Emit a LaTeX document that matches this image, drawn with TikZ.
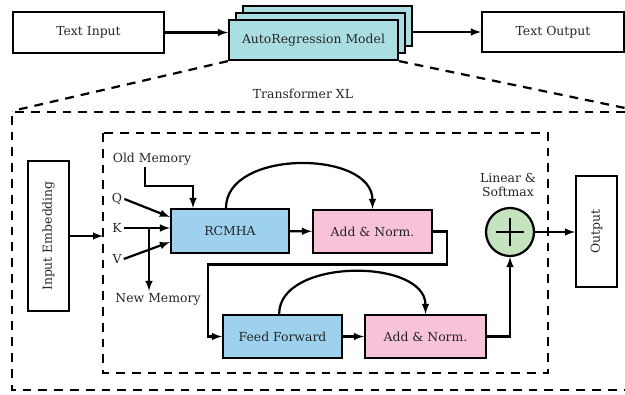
\documentclass[tikz,border=0pt]{standalone}
\usepackage{fontspec}
\setmainfont{DejaVu Serif}
\usepackage{tikz}

\definecolor{arcyan}{RGB}{170,222,226}
\definecolor{attnblue}{RGB}{157,209,238}
\definecolor{normpink}{RGB}{247,194,218}
\definecolor{sumgreen}{RGB}{197,227,190}

\begin{document}
\begin{tikzpicture}[x=0.03cm,y=-0.03cm,>=latex,line width=1.9pt,
  font=\fontsize{10.6}{12.5}\selectfont,
  block/.style={rectangle,draw,text=black!85,minimum height=1.23cm},
  lbl/.style={inner sep=1pt,text=black!85},
  frame/.style={dash pattern=on 7.5pt off 6pt}]
\useasboundingbox (0,0) rectangle (625,394);

% top row
\node [block,minimum width=4.53cm] (txtin) at (88.5,32.5) {Text Input};
\node [block,fill=arcyan,minimum width=5.07cm,minimum height=1.2cm] (arback) at (327.5,26) {};
\node [block,fill=arcyan,minimum width=5.07cm,minimum height=1.2cm] (armid) at (320.5,33) {};
\node [block,fill=arcyan,minimum width=5.07cm,minimum height=1.2cm] (arfront) at (313.5,40) {AutoRegression Model};
\node [block,minimum width=4.26cm,minimum height=1.2cm] (txtout) at (553,32) {Text Output};
\draw [->] (txtin.east) -- (txtin.east -| arfront.west);
\draw [->] (arback.east |- txtout.west) -- (txtout.west);

% zoom into the model
\coordinate (zl) at (12,111);
\coordinate (zr) at (625,108);
\draw [frame] (arfront.south west) -- (zl);
\draw [frame] (arfront.south east) -- (zr);
\node [lbl] (xl) at (303,94) {Transformer XL};
\draw [frame] (625,112) -- (12,112) -- (12,390) -- (625,390);
\draw [frame] (103,133) rectangle (548,373);

% input side
\node [block,rotate=90,minimum width=4.5cm] (inemb) at (48.5,236) {Input Embedding};
\coordinate (inl) at (103,236);
\draw [->] (inemb.south) -- (inl);

\node [lbl] (oldmem) at (152,159) {Old Memory};
\node [lbl] (q) at (117,199) {Q};
\node [lbl] (k) at (117,228) {K};
\node [lbl] (v) at (117,259) {V};
\node [lbl] (newmem) at (158,299) {New Memory};

% attention block
\node [block,fill=attnblue,minimum width=3.54cm,minimum height=1.32cm] (rcmha) at (230,231) {RCMHA};
\node [block,fill=normpink,minimum width=3.57cm,minimum height=1.29cm] (addA) at (372.5,231.5) {Add \& Norm.};
\node [block,fill=attnblue,minimum width=3.57cm,minimum height=1.29cm] (ff) at (282.5,336.5) {Feed Forward};
\node [block,fill=normpink,minimum width=3.63cm,minimum height=1.29cm] (addB) at (425.5,336.5) {Add \& Norm.};

\draw [->] ([xshift=-0.21cm]oldmem.south) -- ++(0,19) -| ([xshift=-1.11cm]rcmha.north);
\draw [->] (q.east) -- ([yshift=0.42cm]rcmha.west);
\draw [->] (k.east) -- (k.east -| rcmha.west);
\draw [->] (v.east) -- ([yshift=-0.33cm]rcmha.west);
\coordinate (kbr) at (149,228);
\draw [->] (kbr) -- (kbr |- newmem.north);

\draw [->] (rcmha) -- (addA);
\draw [->] ([xshift=-0.12cm]rcmha.north) .. controls +(0,-59) and +(0,-59) .. (addA.north);
\draw [->] (addA.east) -- ++(14,0) -- ++(0,33) -- ++(-239,0) |- (ff.west);
\draw [->] (ff) -- (addB);
\draw [->] ([xshift=-0.1cm]ff.north) .. controls +(0,-56) and +(0,-56) .. (addB.north);

% output side
\node [circle,draw,fill=sumgreen,minimum size=1.44cm,inner sep=0pt,
  path picture={
    \draw ([xshift=-0.42cm]path picture bounding box.center) -- ([xshift=0.42cm]path picture bounding box.center);
    \draw ([yshift=-0.42cm]path picture bounding box.center) -- ([yshift=0.42cm]path picture bounding box.center);
  }] (plus) at (510,232) {};
\node [lbl,align=center] (linsm) at (508,185) {Linear \&\\Softmax};
\node [block,rotate=90,minimum width=3.33cm] (output) at (596.5,231.5) {Output};

\draw [->] (addB.east) -| (plus.south);
\draw [->] (plus.east) -- (plus.east -| output.north);
\end{tikzpicture}
\end{document}
